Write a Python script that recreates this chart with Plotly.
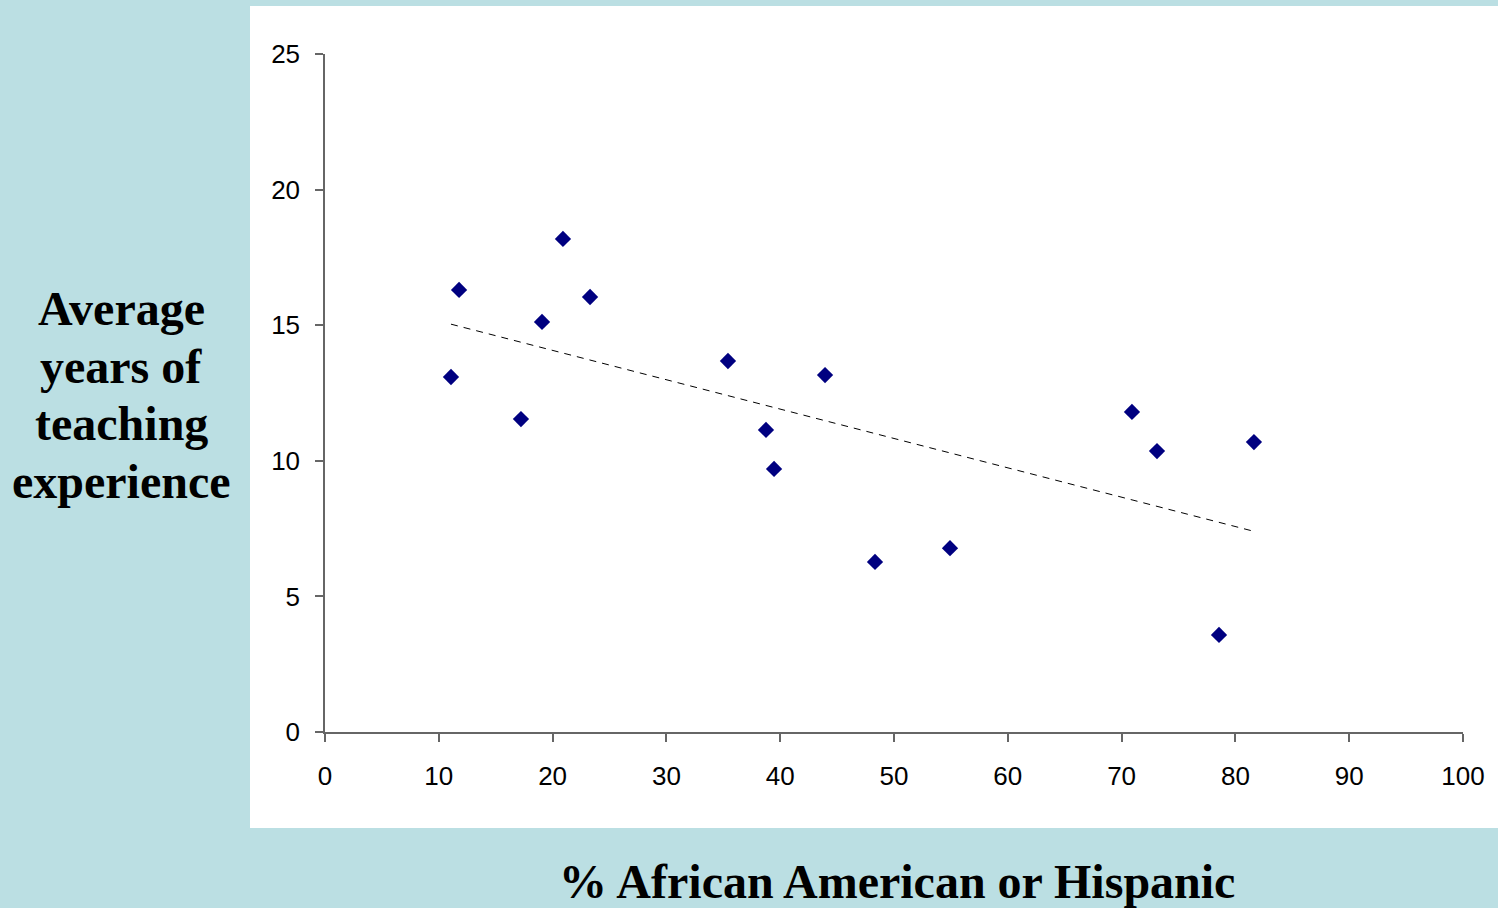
import numpy as np
import plotly.graph_objects as go

pct_minority = [11.07, 11.78, 17.22, 19.07, 20.91, 23.29, 35.41, 38.75, 39.46,
                43.94, 48.33, 54.92, 70.91, 73.11, 78.56, 81.63]
avg_experience = [13.09, 16.30, 11.54, 15.12, 18.18, 16.04, 13.68, 11.14, 9.70,
                  13.16, 6.27, 6.78, 11.80, 10.36, 3.58, 10.69]
x_ticks = [0, 10, 20, 30, 40, 50, 60, 70, 80, 90, 100]
y_ticks = [0, 5, 10, 15, 20, 25]
y_title_lines = ["Average", "years of", "teaching", "experience"]
x_title = "% African American or Hispanic"

slope, intercept = np.polyfit(pct_minority, avg_experience, 1)
tx = [min(pct_minority), max(pct_minority)]
ty = [slope * v + intercept for v in tx]

W, H = 1498, 908
L, R, T, B = 325, 1463, 54, 732

fig = go.Figure()
fig.add_trace(go.Scatter(x=tx, y=ty, mode="lines",
                         line=dict(color="black", width=1, dash="7px,6px"),
                         hoverinfo="skip", showlegend=False))
fig.add_trace(go.Scatter(x=pct_minority, y=avg_experience, mode="markers",
                         marker=dict(symbol="diamond", size=12.5, color="#000080"),
                         showlegend=False))

def px2paper_x(p):
    return (p - L) / (R - L)

def px2paper_y(p):
    return (B - p) / (B - T)

fig.add_shape(type="rect", xref="paper", yref="paper",
              x0=px2paper_x(250), x1=px2paper_x(1500),
              y0=px2paper_y(828), y1=px2paper_y(6),
              fillcolor="white", line=dict(width=0), layer="below")

axis_common = dict(showgrid=False, zeroline=False, showline=True,
                   linecolor="#666666", linewidth=1.5, ticks="outside",
                   ticklen=8, tickwidth=1.5, tickcolor="#666666",
                   tickfont=dict(family="Liberation Sans, Arial, sans-serif",
                                 size=26, color="black"))

fig.update_xaxes(range=[0, 100], tickvals=x_ticks, ticklabelstandoff=12,
                 **axis_common)
fig.update_yaxes(range=[0, 25], tickvals=y_ticks, ticklabelstandoff=10,
                 **axis_common)

title_font = dict(family="Liberation Serif, Times New Roman, serif",
                  size=48, color="black")
line_y = [308, 366, 423, 481]
for txt, py in zip(y_title_lines, line_y):
    fig.add_annotation(text="<b>" + txt + "</b>",
                       xref="paper", yref="paper",
                       x=px2paper_x(121), y=px2paper_y(py),
                       xanchor="center", yanchor="middle", showarrow=False,
                       font=title_font)
fig.add_annotation(text="<b>" + x_title + "</b>",
                   xref="paper", yref="paper",
                   x=px2paper_x(897), y=px2paper_y(881),
                   xanchor="center", yanchor="middle", showarrow=False,
                   font=title_font)

fig.update_layout(width=W, height=H,
                  margin=dict(l=L, r=W - R, t=T, b=H - B, pad=0),
                  paper_bgcolor="#BBDFE3", plot_bgcolor="white",
                  showlegend=False)

fig.write_html("out.html",
               config={"displayModeBar": False},
               post_script="document.body.style.margin='0';"
                           "document.body.style.overflow='hidden';"
                           "document.body.style.background='#BBDFE3';")
